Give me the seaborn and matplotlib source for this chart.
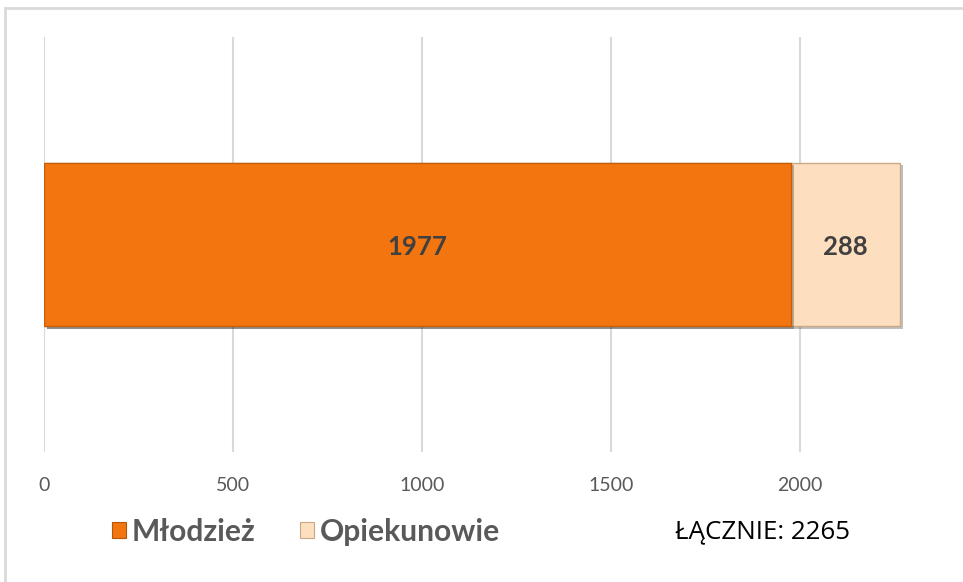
import matplotlib
matplotlib.use("Agg")
import matplotlib.pyplot as plt
import matplotlib.patheffects as pe
from matplotlib.patches import Rectangle, Patch
import seaborn as sns
import pandas as pd

# ---- data ----
groups = ["Razem"]
mlodziez = [1977]
opiekunowie = [288]
series_names = ["Młodzież", "Opiekunowie"]
x_ticks = [0, 500, 1000, 1500, 2000]
total_label = "ŁĄCZNIE"

orange = "#F2750F"
peach = "#FDDFC0"
text_gray = "#404040"
legend_gray = "#595959"

sns.set_theme(style="white")
plt.rcParams["font.family"] = ["Lato", "DejaVu Sans"]

df = pd.DataFrame({"grupa": groups, "Młodzież": mlodziez, "Opiekunowie": opiekunowie})
df["Suma"] = df["Młodzież"] + df["Opiekunowie"]

W, H = 963, 582
fig = plt.figure(figsize=(W / 100, H / 100), dpi=100)
fig.patch.set_facecolor("white")

left_px, px_per_unit = 44, (800 - 44) / 2000
xmax = 2500
ax_w = xmax * px_per_unit
ax = fig.add_axes([left_px / W, (H - 452) / H, ax_w / W, (452 - 37) / H])

shadow = [pe.SimplePatchShadow(offset=(2, -2), alpha=0.25, shadow_rgbFace="#000000"), pe.Normal()]

sns.barplot(data=df, x="Suma", y="grupa", orient="h", color=peach, saturation=1,
            width=0.395, errorbar=None, ax=ax, edgecolor="#C9A886", linewidth=1.0)
sns.barplot(data=df, x="Młodzież", y="grupa", orient="h", color=orange, saturation=1,
            width=0.395, errorbar=None, ax=ax, edgecolor="#C55F0A", linewidth=1.0)
for p in ax.patches:
    p.set_path_effects(shadow)
    p.set_zorder(3)

ax.set_xlim(0, xmax)
ax.set_ylim(0.5, -0.5)
ax.set_xticks(x_ticks)
ax.set_xticklabels([str(t) for t in x_ticks])
ax.tick_params(axis="x", length=0, pad=18, labelsize=14, labelcolor=legend_gray)
ax.set_yticks([])
ax.set_xlabel("")
ax.set_ylabel("")
for s in ax.spines.values():
    s.set_visible(False)
ax.grid(axis="x", color="#D9D9D9", linewidth=1.5, zorder=0)
ax.set_axisbelow(True)

# data labels
for i in range(len(groups)):
    a, b = mlodziez[i], opiekunowie[i]
    ax.text(a / 2, i + 0.005, str(a), ha="center", va="center", fontsize=18.5,
            fontweight="bold", color=text_gray, zorder=5)
    ax.text(a + b / 2, i + 0.005, str(b), ha="center", va="center", fontsize=18.5,
            fontweight="bold", color=text_gray, zorder=5)

# legend
handles = [Patch(facecolor=orange, edgecolor="#B3560A", linewidth=0.8),
           Patch(facecolor=peach, edgecolor="#C9A886", linewidth=0.8)]
leg = fig.legend(handles, series_names, loc="center left",
                 bbox_to_anchor=(112 / W, (H - 532) / H), ncol=2, frameon=False,
                 borderpad=0, borderaxespad=0,
                 handlelength=0.45, handleheight=0.45, handletextpad=0.2,
                 columnspacing=1.5, prop={"weight": "bold", "size": 21.6})
for t in leg.get_texts():
    t.set_color(legend_gray)

total = sum(mlodziez) + sum(opiekunowie)
fig.text(675 / W, (H - 532) / H, f"{total_label}: {total}", ha="left", va="center",
         fontsize=18.7, color="black", family=["Open Sans", "DejaVu Sans"])

# outer chart border (top and left visible)
fig.add_artist(Rectangle((5 / W, -0.1), 1.2, (H - 8) / H + 0.1, transform=fig.transFigure,
                         fill=False, edgecolor="#D9D9D9", linewidth=2))

fig.savefig("out.png", dpi=100)
